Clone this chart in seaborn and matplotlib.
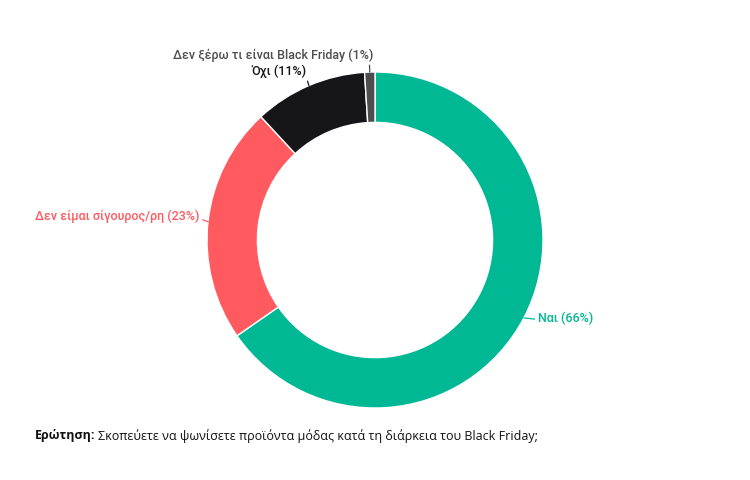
import matplotlib.pyplot as plt
import seaborn as sns
import numpy as np

# data
labels = ['Ναι', 'Δεν είμαι σίγουρος/ρη', 'Όχι', 'Δεν ξέρω τι είναι Black Friday']
values = [66, 23, 11, 1]
colors = ['#00b894', '#ff5a5f', '#161618', '#4d4d4f']
label_colors = ['#00b894', '#ff5a5f', '#161618', '#4d4d4f']
question = 'Σκοπεύετε να ψωνίσετε προϊόντα μόδας κατά τη διάρκεια του Black Friday;'

sns.set_theme(style='white')
plt.rcParams['font.family'] = ['Roboto', 'DejaVu Sans']

fig = plt.figure(figsize=(7.5, 4.8), dpi=100)
R = 168
ax = fig.add_axes([(375 - R) / 750, (240 - R) / 480, 2 * R / 750, 2 * R / 480])

wedges, _ = ax.pie(values, colors=colors, startangle=90, counterclock=False,
                   radius=1, wedgeprops=dict(width=0.3, edgecolor='white', linewidth=1))
ax.set_xlim(-1, 1)
ax.set_ylim(-1, 1)
ax.axis('off')

# label anchor positions (data coords), alignment and where the leader leaves the text
text_pos = [(0.97, -0.465, 'left', (0, 0.4)), (-1.045, 0.143, 'right', (1, 0.3)),
            (-0.41, 1.005, 'right', (1, 0.1)), (-0.01, 1.10, 'right', (0.98, 0.1))]
for w, lab, val, col, (tx, ty, ha, rp) in zip(wedges, labels, values, label_colors, text_pos):
    ang = np.deg2rad((w.theta1 + w.theta2) / 2)
    ex, ey = np.cos(ang), np.sin(ang)
    ax.annotate(f'{lab} ({val}%)', xy=(ex, ey), xytext=(tx, ty),
                ha=ha, va='center', fontsize=9, color=col, fontweight='medium',
                annotation_clip=False,
                arrowprops=dict(arrowstyle='-', color=col, lw=0.9, relpos=rp,
                                shrinkA=0, shrinkB=0))

# footer question
t1 = fig.text(35 / 750, 1 - 436 / 480, 'Ερώτηση:', fontsize=9, fontweight='bold',
              family=['Open Sans', 'DejaVu Sans'], color='#111111', va='center')
fig.canvas.draw()
bb = t1.get_window_extent()
fig.text((bb.x1 + 3) / 750, 1 - 436 / 480, question, fontsize=9,
         family=['Open Sans', 'DejaVu Sans'], color='#111111', va='center')

fig.savefig('out.png', dpi=100)
